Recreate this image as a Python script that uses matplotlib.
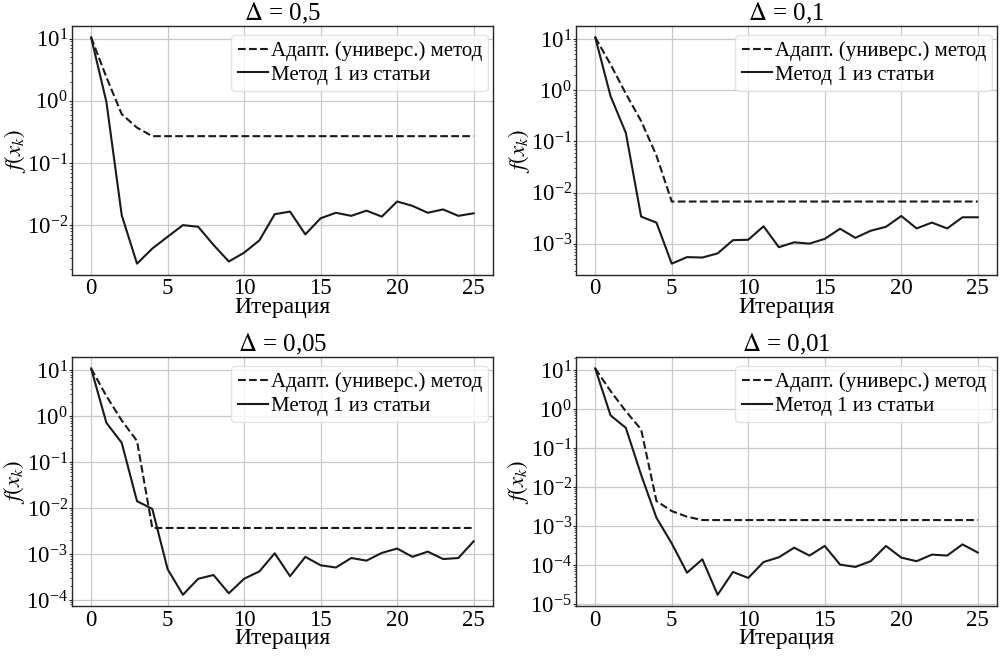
import matplotlib
matplotlib.use('Agg')
import matplotlib.pyplot as plt
import numpy as np
from matplotlib.ticker import LogLocator, NullFormatter

plt.rcParams['font.family'] = ['Liberation Serif', 'DejaVu Serif']
plt.rcParams['mathtext.fontset'] = 'stix'

iters = np.arange(26)
titles = [r'$\Delta$ = 0,5', r'$\Delta$ = 0,1', r'$\Delta$ = 0,05', r'$\Delta$ = 0,01']
label_adapt = 'Адапт. (универс.) метод'
label_m1 = 'Метод 1 из статьи'

# Adaptive (universal) method
adapt_05 = [10.5, 2.4, 0.61, 0.37] + [0.27] * 22
adapt_01 = [10.8, 3.2, 0.86, 0.25, 0.053] + [0.0067] * 21
adapt_005 = [11, 2.76, 0.81, 0.29] + [0.0037] * 22
adapt_001 = [11, 2.9, 0.88, 0.30, 0.0044, 0.00243, 0.00174] + [0.00143] * 19

# Method 1 from the paper
m1_05 = [10.5, 0.96, 0.0145, 0.0024, 0.0042, 0.0065, 0.0100, 0.0094, 0.0048,
         0.0026, 0.0036, 0.0057, 0.015, 0.0165, 0.0071, 0.0129, 0.0158, 0.0141,
         0.0171, 0.0137, 0.024, 0.0204, 0.0158, 0.0179, 0.0141, 0.0155]
m1_01 = [10.8, 0.77, 0.147, 0.0034, 0.0026, 0.00041, 0.00055, 0.00054, 0.00065,
         0.00118, 0.0012, 0.0022, 0.00086, 0.00107, 0.00101, 0.00125, 0.00197,
         0.00131, 0.0018, 0.00215, 0.0035, 0.0020, 0.0026, 0.0020, 0.0033, 0.0033]
m1_005 = [11, 0.72, 0.265, 0.0142, 0.0096, 0.00047, 0.00013, 0.00029, 0.00035,
          0.00014, 0.00029, 0.00042, 0.00104, 0.00033, 0.00087, 0.00057, 0.00051,
          0.00082, 0.00072, 0.00106, 0.00132, 0.00087, 0.00113, 0.00078, 0.00082,
          0.0019]
m1_001 = [11, 0.69, 0.33, 0.0206, 0.00164, 0.00036, 6.4e-5, 0.000141, 1.74e-5,
          6.7e-5, 4.7e-5, 0.00012, 0.000159, 0.00028, 0.000176, 0.00031, 0.000103,
          9e-5, 0.000126, 0.00031, 0.000156, 0.000126, 0.000186, 0.000176, 0.00034,
          0.00021]

adapt_all = [adapt_05, adapt_01, adapt_005, adapt_001]
m1_all = [m1_05, m1_01, m1_005, m1_001]

fig, axes = plt.subplots(2, 2, figsize=(10.08, 6.57), dpi=100)
fig.subplots_adjust(left=0.0714, right=0.989, top=0.9604, bottom=0.0775,
                    wspace=0.198, hspace=0.33)

for ax, title, ad, m1 in zip(axes.flat, titles, adapt_all, m1_all):
    ax.plot(iters, ad, '--', color='#1a1a1a', linewidth=1.5, label=label_adapt)
    ax.plot(iters, m1, '-', color='#1a1a1a', linewidth=1.5, label=label_m1)
    ax.set_yscale('log')
    ax.set_title(title, fontsize=18, pad=3)
    ax.set_xlabel('Итерация', fontsize=17, labelpad=-1.5)
    ax.set_ylabel(r'$f(x_k)$', fontsize=16.5, labelpad=-1)
    ax.set_xticks([0, 5, 10, 15, 20, 25])
    ax.yaxis.set_major_locator(LogLocator(base=10, numticks=15))
    ax.yaxis.set_minor_locator(LogLocator(base=10, subs=np.arange(2, 10), numticks=15))
    ax.yaxis.set_minor_formatter(NullFormatter())
    ax.tick_params(axis='both', which='major', labelsize=16.5, length=2, pad=1,
                   color='#262626')
    ax.tick_params(axis='x', which='major', length=0, pad=2.5)
    ax.tick_params(axis='y', which='minor', length=1.5, color='#262626')
    ax.grid(True, which='major', color='#c8c8c8', linewidth=0.9)
    ax.set_axisbelow(True)
    for sp in ax.spines.values():
        sp.set_color('#262626')
        sp.set_linewidth(1.0)
    ax.legend(loc='upper right', bbox_to_anchor=(0.9895, 0.964), borderaxespad=0,
              fontsize=15, handlelength=1.45, handletextpad=0.15, borderpad=0.3,
              labelspacing=0.2, framealpha=0.8, edgecolor='#dddddd')

fig.savefig('out.png', dpi=100)
